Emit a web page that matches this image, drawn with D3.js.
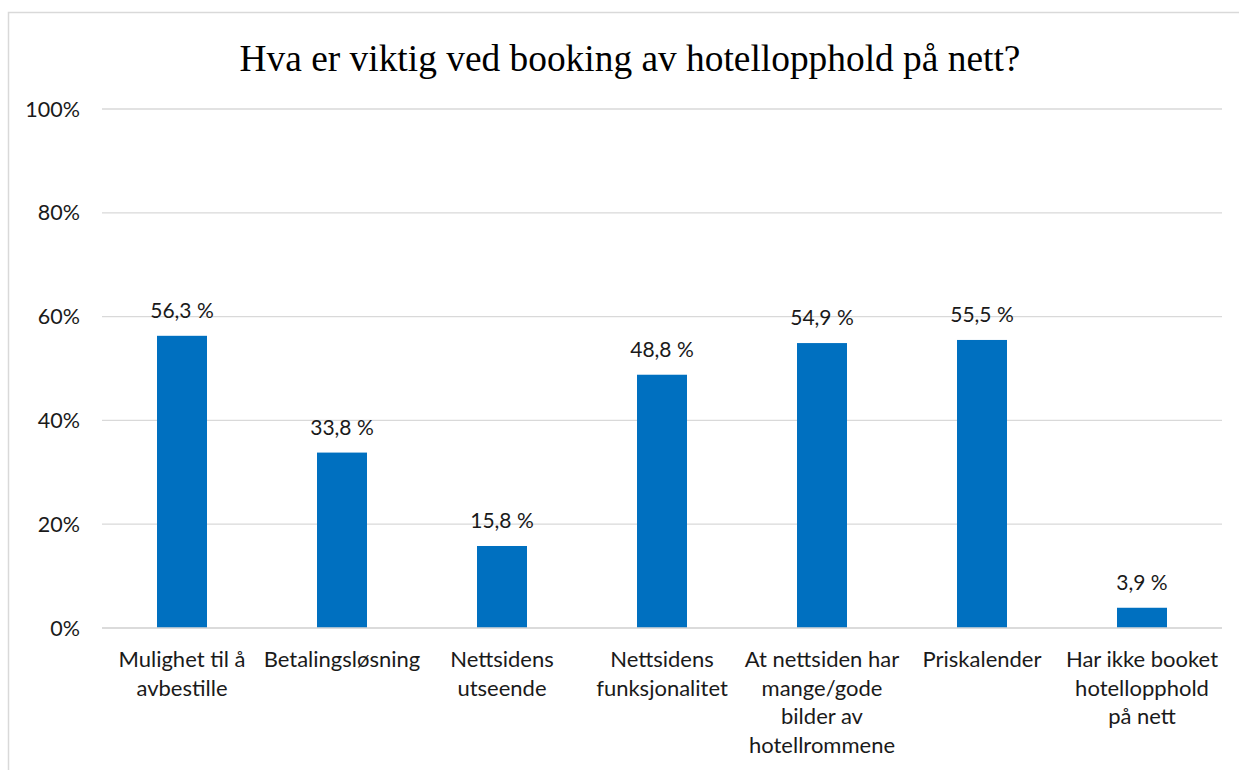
<!DOCTYPE html>
<html><head><meta charset="utf-8">
<script src="https://cdn.jsdelivr.net/npm/d3@7"></script>
<style>body{margin:0;background:#fff}svg{display:block}</style>
</head><body>
<script>
const categories = [
  ["Mulighet til å","avbestille"],
  ["Betalingsløsning"],
  ["Nettsidens","utseende"],
  ["Nettsidens","funksjonalitet"],
  ["At nettsiden har","mange/gode","bilder av","hotellrommene"],
  ["Priskalender"],
  ["Har ikke booket","hotellopphold","på nett"]
];
const values = [56.3, 33.8, 15.8, 48.8, 54.9, 55.5, 3.9];
const yTicks = [0, 20, 40, 60, 80, 100];
const title = "Hva er viktig ved booking av hotellopphold på nett?";

const W = 1239, H = 770;
const svg = d3.select("body").append("svg").attr("width", W).attr("height", H);
const lab = "Lato, 'Open Sans', sans-serif";

// frame
svg.append("rect").attr("x", 8.5).attr("y", 12.5).attr("width", 1240).attr("height", 770)
  .attr("fill", "none").attr("stroke", "#d9d9d9").attr("stroke-width", 1.5);

const x = d3.scaleBand().domain(d3.range(values.length)).range([102, 1222]).paddingInner(0.6875).paddingOuter(0.34375);
const y = d3.scaleLinear().domain([0, 100]).range([628, 109]);

// gridlines
svg.append("g").selectAll("line").data(yTicks).join("line")
  .attr("x1", 102).attr("x2", 1222)
  .attr("y1", d => y(d)).attr("y2", d => y(d))
  .attr("stroke", "#d9d9d9").attr("stroke-width", 1.3);

// y labels
svg.append("g").selectAll("text").data(yTicks).join("text")
  .attr("x", 80).attr("y", d => y(d) + 7.5)
  .attr("text-anchor", "end").attr("font-family", lab).attr("font-size", 21.5).attr("fill", "#1a1a1a")
  .text(d => d + "%");

// bars
svg.append("g").selectAll("rect").data(values).join("rect")
  .attr("x", (d, i) => x(i)).attr("width", x.bandwidth())
  .attr("y", d => y(d)).attr("height", d => y(0) - y(d))
  .attr("fill", "#0070c0");

// baseline redraw
svg.append("line").attr("x1", 102).attr("x2", 1222).attr("y1", y(0)).attr("y2", y(0))
  .attr("stroke", "#d9d9d9").attr("stroke-width", 1.3);

// value labels
svg.append("g").selectAll("text").data(values).join("text")
  .attr("x", (d, i) => x(i) + x.bandwidth() / 2).attr("y", d => y(d) - 18)
  .attr("text-anchor", "middle").attr("font-family", lab).attr("font-size", 21).attr("fill", "#1a1a1a")
  .text(d => d.toFixed(1).replace(".", ",") + " %");

// category labels
const cg = svg.append("g").selectAll("text").data(categories).join("text")
  .attr("x", (d, i) => x(i) + x.bandwidth() / 2).attr("y", 667)
  .attr("text-anchor", "middle").attr("font-family", lab).attr("font-size", 22).attr("fill", "#1a1a1a");
cg.selectAll("tspan").data(d => d).join("tspan")
  .attr("x", function() { return this.parentNode.getAttribute("x"); })
  .attr("dy", (d, i) => i === 0 ? 0 : 28.5)
  .text(d => d);

// title
svg.append("text").attr("x", 630).attr("y", 71).attr("text-anchor", "middle")
  .attr("font-family", "'Liberation Serif', 'Times New Roman', serif").attr("font-size", 37.4).attr("fill", "#000")
  .text(title);
</script>
</body></html>
